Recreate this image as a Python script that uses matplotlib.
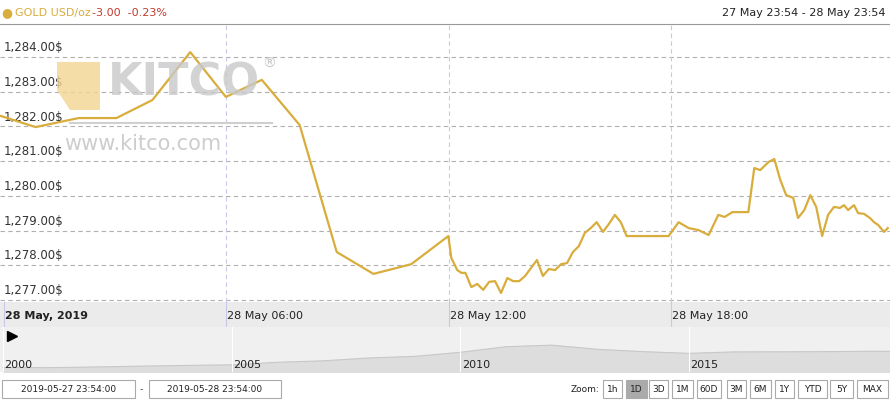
import matplotlib
matplotlib.use("Agg")
import matplotlib.pyplot as plt
from matplotlib.patches import Rectangle, Polygon

hours = [-0.08,0.86,2.02,3.04,4.01,5.03,5.99,6.96,7.98,8.98,9.97,10.99,11.99,12.07,12.23,12.34,12.45,12.61,12.77,12.93,
         13.09,13.25,13.41,13.58,13.74,13.90,14.06,14.22,14.38,14.54,14.70,14.87,15.03,15.19,15.35,15.51,15.67,15.83,15.99,
         16.16,16.32,16.48,16.64,16.80,17.12,17.66,17.93,18.20,18.47,18.74,19.01,19.27,19.44,19.65,19.81,20.08,20.24,20.40,
         20.62,20.78,20.94,21.10,21.29,21.42,21.59,21.75,21.91,22.07,22.23,22.39,22.55,22.66,22.77,22.93,23.04,23.20,23.36,
         23.47,23.58,23.74,23.84]
prices = [1282.30,1281.98,1282.24,1282.24,1282.76,1284.14,1282.85,1283.34,1282.04,1278.38,1277.75,1278.03,1278.84,1278.21,
          1277.86,1277.78,1277.78,1277.37,1277.46,1277.29,1277.52,1277.54,1277.20,1277.63,1277.54,1277.54,1277.69,1277.92,
          1278.15,1277.69,1277.89,1277.86,1278.03,1278.06,1278.38,1278.55,1278.93,1279.07,1279.24,1278.96,1279.19,1279.45,
          1279.24,1278.84,1278.84,1278.84,1278.84,1279.24,1279.07,1279.01,1278.87,1279.45,1279.39,1279.53,1279.53,1279.53,
          1280.80,1280.74,1280.97,1281.06,1280.46,1280.02,1279.94,1279.36,1279.59,1280.02,1279.68,1278.84,1279.45,1279.68,
          1279.65,1279.73,1279.59,1279.73,1279.50,1279.48,1279.36,1279.24,1279.16,1278.96,1279.07]
y_ticks = [1277,1278,1279,1280,1281,1282,1283,1284]
x_ticks = [0,6,12,18]
x_labels = ["28 May, 2019","28 May 06:00","28 May 12:00","28 May 18:00"]
nav_years = [2000,2001,2002,2003,2004,2005,2006,2007,2008,2009,2010,2011,2012,2013,2014,2015,2016,2017,2018,2019,2019.4]
nav_vals = [280,270,310,363,409,445,604,695,872,972,1225,1572,1669,1411,1266,1160,1251,1257,1268,1290,1285]
nav_ticks = [2000,2005,2010,2015]
zoom_btns = ["1h","1D","3D","1M","60D","3M","6M","1Y","YTD","5Y","MAX"]

W, H = 890, 400
fig = plt.figure(figsize=(8.9, 4), dpi=100)
fig.patch.set_facecolor("white")
def ax_px(x0, y0, x1, y1, **kw):
    return fig.add_axes([x0/W, (H-y1)/H, (x1-x0)/W, (y1-y0)/H], **kw)
def px(x, y):
    return x/W, (H-y)/H

gold = "#d9ad3c"
ax = ax_px(0, 24, 890, 302)
ax.set_xlim(-0.1, 23.9)
ax.set_ylim(1276.94, 1284.95)
for t in y_ticks:
    ax.axhline(t, color="#b0b0b0", lw=0.8, ls=(0, (4, 3)), zorder=1)
    ax.text(-0.0, t+0.08, f"{t:,.2f}$", fontsize=8.5, color="#333333", va="bottom", ha="left", zorder=3)
for t in x_ticks[1:]:
    ax.axvline(t, color="#c8c8e8", lw=0.8, ls=(0, (4, 3)), zorder=1)
ax.plot(hours, prices, color=gold, lw=1.6, zorder=4)
ax.set_xticks([]); ax.set_yticks([])
for s in ["left", "right", "bottom"]:
    ax.spines[s].set_visible(False)
ax.spines["top"].set_color("#999999")

# watermark
fig.patches.append(Polygon([px(57, 62), px(100, 62), px(100, 110), px(70, 110), px(57, 90)],
                           closed=True, transform=fig.transFigure, facecolor="#f2d590", alpha=0.8, zorder=2))
fig.text(*px(108, 96), "KITCO", fontsize=32, color="#c8c8c8", alpha=0.8, fontweight="bold", zorder=2)
fig.text(*px(262, 68), "®", fontsize=10, color="#c8c8c8", zorder=2)
fig.text(*px(64, 150), "www.kitco.com", fontsize=15, color="#c8c8c8", alpha=0.9, zorder=2)
fig.lines.append(plt.Line2D([70/W, 272/W], [(H-123)/H]*2, color="#d0d0d0", lw=1.5, transform=fig.transFigure))

# header
fig.text(*px(1, 13), "●", fontsize=9, color=gold, va="center")
fig.text(*px(15, 13), "GOLD USD/oz", fontsize=8, color=gold, va="center")
fig.text(*px(92, 13), "-3.00  -0.23%", fontsize=8, color="#c0392b", va="center")
fig.text(*px(885, 13), "27 May 23:54 - 28 May 23:54", fontsize=8, color="#222222", va="center", ha="right")

lab = ax_px(0, 302, 890, 327)
lab.set_facecolor("#ebebeb"); lab.set_xlim(-0.1, 23.9); lab.set_ylim(0, 1)
lab.set_xticks([]); lab.set_yticks([])
for s in lab.spines.values(): s.set_visible(False)
for t, l in zip(x_ticks, x_labels):
    lab.axvline(t, color="#c8c8e8", lw=0.8)
    lab.text(t+0.03, 0.45, l, fontsize=8, va="center", fontweight="bold" if t == 0 else "normal", color="#222222")

nav = ax_px(0, 327, 890, 372)
nav.set_facecolor("#f0f0f0"); nav.set_xlim(1999.93, 2019.4); nav.set_ylim(0, 2800)
nav.fill_between(nav_years, nav_vals, color="#dddddd")
nav.plot(nav_years, nav_vals, color="#c8c8c8", lw=0.8)
nav.set_xticks([]); nav.set_yticks([])
for s in nav.spines.values(): s.set_visible(False)
for y in nav_ticks:
    nav.axvline(y, color="white", lw=0.8)
    nav.text(y+0.03, 450, str(y), fontsize=8, color="#222222", va="center")
nav.plot([2000.2], [2250], marker=">", color="black", ms=7)

def box(x0, y0, x1, y1, text, fc="white"):
    fig.patches.append(Rectangle(px(x0, y1), (x1-x0)/W, (y1-y0)/H, transform=fig.transFigure,
                                 facecolor=fc, edgecolor="#aaaaaa", lw=0.8))
    fig.text(*px((x0+x1)/2, (y0+y1)/2), text, fontsize=6.5, ha="center", va="center", color="#222222")
box(2, 380, 135, 398, "2019-05-27 23:54:00")
fig.text(*px(141, 389), "-", fontsize=7, ha="center", va="center", color="#555555")
box(149, 380, 281, 398, "2019-05-28 23:54:00")
fig.text(*px(599, 389), "Zoom:", fontsize=6.5, ha="right", va="center", color="#222222")
bx = [(603,622),(626,647),(649,668),(672,693),(697,721),(727,746),(750,771),(775,794),(798,827),(830,853),(857,888)]
for (a, b), t in zip(bx, zoom_btns):
    box(a, 380, b, 398, t, fc="#aaaaaa" if t == "1D" else "white")

fig.savefig("out.png", dpi=100)
